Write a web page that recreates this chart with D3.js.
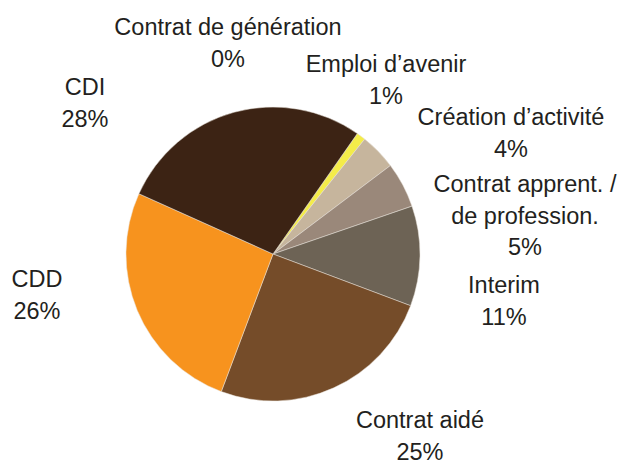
<!DOCTYPE html>
<html>
<head>
<meta charset="utf-8">
<script src="https://cdn.jsdelivr.net/npm/d3@7"></script>
<style>
  body { margin: 0; background: #fff; }
  text { font-family: "Liberation Sans", Arial, sans-serif; fill: #231f20; }
</style>
</head>
<body>
<div id="chart"></div>
<script>
// contract types, in clockwise order starting near 1 o'clock
var categories = ["Contrat de génération", "Emploi d\u2019avenir", "Création d\u2019activité",
                  "Contrat apprent. /\nde profession.", "Interim", "Contrat aidé", "CDD", "CDI"];
var shares = [0, 1, 4, 5, 11, 25, 26, 28];
var colors = ["#d9c9a8", "#f4ec4a", "#c6b59d", "#9a887a", "#6d6355", "#754c29", "#f7931e", "#3c2314"];

var w = 622, h = 463;
var cx = 273, cy = 254, r = 147;
var fontSize = 23.5, lineH = 31.5;

// label anchors (first line baseline), relative to the pie centre
var labelPos = {
  "Contrat de génération": [-45, -219],
  "Emploi d\u2019avenir": [113, -182],
  "Création d\u2019activité": [238, -129],
  "Contrat apprent. /\nde profession.": [252, -62],
  "Interim": [231, 39],
  "Contrat aidé": [147, 174],
  "CDD": [-236, 33],
  "CDI": [-188, -159]
};

var svg = d3.select("#chart").append("svg")
    .attr("width", w)
    .attr("height", h);

var pie = d3.pie()
    .sort(null)
    .value(function(d) { return d; })
    .startAngle(35 * Math.PI / 180)
    .endAngle(35 * Math.PI / 180 + 2 * Math.PI);

var arc = d3.arc().innerRadius(0).outerRadius(r);
var color = d3.scaleOrdinal().domain(categories).range(colors);
var fmt = d3.format(".0f");

var arcs = pie(shares);

var g = svg.append("g").attr("transform", "translate(" + cx + "," + cy + ")");

g.selectAll("path")
  .data(arcs)
  .enter().append("path")
    .attr("d", arc)
    .attr("fill", function(d, i) { return color(categories[i]); })
    .attr("stroke", "#e8e2da")
    .attr("stroke-width", function(d) { return d.value > 0 ? 0.5 : 0; });

var labels = g.selectAll("text.lbl")
  .data(arcs)
  .enter().append("text")
    .attr("class", "lbl")
    .attr("text-anchor", "middle")
    .style("font-size", fontSize + "px")
    .attr("transform", function(d, i) {
      var p = labelPos[categories[i]];
      return "translate(" + p[0] + "," + p[1] + ")"; });

labels.each(function(d, i) {
  var lines = categories[i].split("\n").concat([fmt(d.value) + "%"]);
  var t = d3.select(this);
  lines.forEach(function(line, j) {
    t.append("tspan").attr("x", 0).attr("y", j * lineH).text(line);
  });
});
</script>
</body>
</html>
